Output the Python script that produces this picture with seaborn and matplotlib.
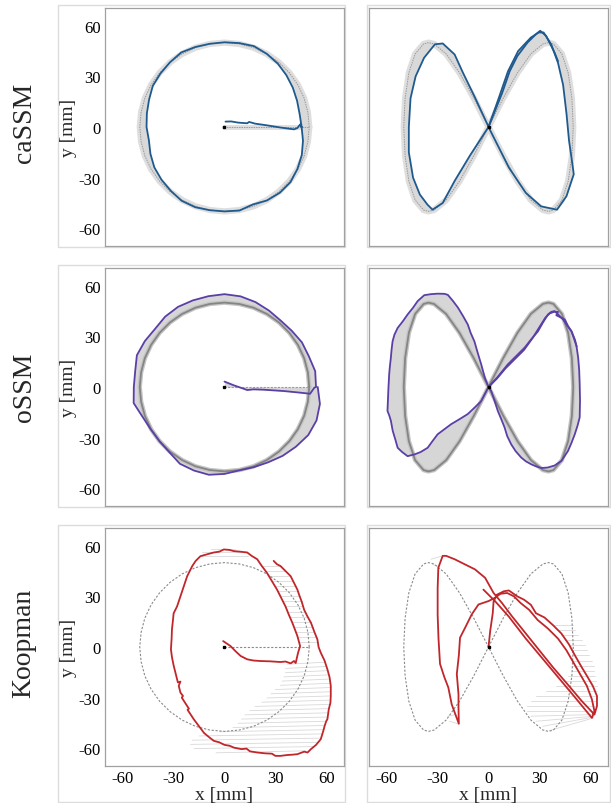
import numpy as np
import matplotlib
matplotlib.use('Agg')
import matplotlib.pyplot as plt
from matplotlib.path import Path
from matplotlib.patches import PathPatch, Rectangle
import seaborn as sns

# ---------------------------------------------------------------
# reference paths (mm)
circ_ref_x = [50, 49.2, 47.0, 43.3, 38.3, 32.1, 25.0, 17.1, 8.7, 0, -8.7, -17.1, -25.0, -32.1, -38.3,
              -43.3, -47.0, -49.2, -50, -49.2, -47.0, -43.3, -38.3, -32.1, -25.0, -17.1, -8.7, 0,
              8.7, 17.1, 25.0, 32.1, 38.3, 43.3, 47.0, 49.2, 50]
circ_ref_y = [0, 8.7, 17.1, 25.0, 32.1, 38.3, 43.3, 47.0, 49.2, 50, 49.2, 47.0, 43.3, 38.3, 32.1,
              25.0, 17.1, 8.7, 0, -8.7, -17.1, -25.0, -32.1, -38.3, -43.3, -47.0, -49.2, -50,
              -49.2, -47.0, -43.3, -38.3, -32.1, -25.0, -17.1, -8.7, 0]

eight_ref_x = [0, 8.7, 17.1, 25.0, 32.1, 35.4, 38.3, 43.3, 47.0, 49.2, 50, 49.2, 47.0, 43.3, 38.3, 35.4,
               32.1, 25.0, 17.1, 8.7, 0, -8.7, -17.1, -25.0, -32.1, -35.4, -38.3, -43.3, -47.0, -49.2,
               -50, -49.2, -47.0, -43.3, -38.3, -35.4, -32.1, -25.0, -17.1, -8.7, 0]
eight_ref_y = [0, 17.1, 32.1, 43.3, 49.2, 50, 49.2, 43.3, 32.1, 17.1, 0, -17.1, -32.1, -43.3, -49.2, -50,
               -49.2, -43.3, -32.1, -17.1, 0, 17.1, 32.1, 43.3, 49.2, 50, 49.2, 43.3, 32.1, 17.1,
               0, -17.1, -32.1, -43.3, -49.2, -50, -49.2, -43.3, -32.1, -17.1, 0]

start_ref_x = [0, 50]
start_ref_y = [0, 0]

# ---------------------------------------------------------------
# caSSM
cassm_circ_start_x = [0.6, 4, 8, 13.4, 14.5, 18, 25, 33, 41, 43, 44.6]
cassm_circ_start_y = [3.2, 3.3, 2.6, 2.2, 3.0, 2.0, 1.0, -0.3, -1.4, -0.6, 1.5]
cassm_circ_x = [45.5, 44.3, 42.8, 40.3, 36.5, 31.5, 25.0, 17.4, 8.8, 0, -8.7, -17.2, -25.5, -32.2, -37.8,
                -42.3, -44.5, -45.8, -46.0, -44.6, -43.7, -41.4, -37.2, -31.7, -25.3, -17.3, -8.7, 0,
                8.8, 16.7, 25.1, 32.7, 38.9, 43.0, 45.6, 46.3, 45.5]
cassm_circ_y = [0, 7.8, 15.6, 23.3, 30.7, 37.5, 43.3, 47.9, 49.7, 50.2, 49.3, 47.4, 44.2, 38.3, 31.7,
                24.4, 16.2, 8.1, 0, -7.9, -15.9, -23.9, -31.2, -37.8, -43.7, -47.5, -49.3, -50.0,
                -49.5, -45.9, -43.5, -38.9, -32.7, -24.9, -16.6, -8.2, 0]

cassm_eight_x = [0, 6, 11.5, 17.5, 25, 29.6, 32.5, 37, 41, 44, 46, 47.5, 49.5, 50.3, 46, 40.4, 31, 22,
                 12, 1, -8, -15, -20, -27, -31.6, -38, -43, -46, -47, -47, -44.5, -40.5, -36, -33,
                 -27, -20, -11, 0]
cassm_eight_y = [0, 17, 33, 45, 53, 56, 56, 49, 38, 25, 8, -8, -22, -28, -41, -49, -47, -39,
                 -24, -2, 17.5, 32, 43, 49.5, 49, 41, 30, 17, 0, -15, -30, -40, -46, -49,
                 -45, -32, -17, 0]
cassm_eight2_x = [0, 4, 8, 12.5, 17, 23, 28, 30.5, 34, 36, 39, 41]
cassm_eight2_y = [0, 10, 20, 33, 42, 50, 55, 57, 54, 50, 44, 39]

# ---------------------------------------------------------------
# oSSM
ossm_circ_start_x = [0, 5.5, 9.5, 13.4, 17, 23, 29, 35, 41, 46, 50.5, 53]
ossm_circ_start_y = [3.2, 1.0, -0.4, -1.8, -1.4, -1.6, -2.0, -2.4, -3.0, -3.5, -4.0, -0.4]
ossm_circ_x = [54.0, 53.5, 49.8, 45.7, 39.7, 33.1, 26.2, 18.3, 9.5, 0, -9.5, -18.7, -27.4, -35.0, -41.0,
               -47.0, -51.7, -52.7, -53.5, -53.6, -48.4, -43.5, -38.3, -32.5, -26.3, -18.0, -9.2, 0,
               8.7, 17.3, 25.8, 34.3, 42.1, 49.4, 54.3, 56.3, 55.0]
ossm_circ_y = [0, 9.4, 18.1, 26.4, 33.3, 39.4, 45.3, 50.3, 53.7, 55.0, 53.8, 51.3, 47.5, 41.7, 34.4,
               27.2, 18.8, 9.3, 0, -9.5, -17.6, -25.1, -32.2, -38.7, -45.5, -49.5, -52.0, -51.5,
               -49.4, -47.5, -44.6, -40.8, -35.4, -28.5, -19.8, -10.0, 0]

ossm_eight_x = [0, 5, 11.4, 16, 21.3, 25, 29.2, 32, 35.1, 37, 39, 41, 44, 46, 48.9, 50.5, 51.9, 52.9,
                53.5, 53.8, 54, 53.8, 52.5, 50.9, 49, 46.9, 43, 39, 35, 31.2, 28, 25.2, 22, 19.3,
                16, 13.4, 11, 9.5, 7.5, 5.5, 3.5, 1.6, 0,
                -2, -4.3, -6.3, -8.3, -10.5, -12.2, -15, -18, -21, -24, -26, -30, -34, -37.9, -41.8,
                -44.5, -47.7, -50.5, -53.6, -55.5, -56.6, -57.2, -57.6, -58.2, -58.6, -59, -59.3,
                -59.6, -58.5, -57.6, -56.5, -55, -53.6, -51, -47.7, -46, -43.8, -40, -35.9, -33,
                -30, -26, -22, -17, -12.2, -8, -4.3, 0]
ossm_eight_y = [0, 5.5, 13.4, 18, 23.3, 28, 33, 38, 43, 44.5, 45, 43, 40, 37, 33, 28.5, 24.3, 17.4,
                10, 1.6, -8, -18, -23, -28, -33, -37.9, -43.8, -46.5, -47.7, -48, -47, -45.8, -44,
                -41.8, -38, -34, -29, -24, -19, -14.2, -8, -2.4, 0,
                5, 13.4, 20, 27, 32, 37, 42, 47, 51, 54.6, 55.2, 55.3, 55, 54.4, 50.9,
                47, 43, 39, 35, 31, 27, 22, 17.4, 12, 7.5, 0, -7,
                -14.2, -17, -20, -26, -31, -36, -38.5, -41, -40.5, -40, -38.5, -36, -32,
                -28, -25, -22, -19, -16, -12, -8.3, 0]
ossm_eight2_x = [0, 5, 10, 15, 21, 26, 31, 33.5, 36, 38.5, 41, 40, 43, 45, 47, 49, 51, 52]
ossm_eight2_y = [0, 5, 11, 16, 22, 29, 37, 41, 43.5, 44.5, 44.5, 42.5, 41, 40, 36, 33, 28, 24]

# ---------------------------------------------------------------
# Koopman
koop_circ_x = [-0.8, 3.5, 6.5, 9.5, 13.4, 17, 21, 27, 33, 36, 39, 41, 42, 43.4, 44.6, 43, 41.5, 40, 38,
               36, 33.5, 31, 28, 25, 22, 19.3, 16, 13.4, 9, 5.5, 3, -0.4, -3, -6.3, -10, -14.2, -17,
               -19, -20.5, -22, -24, -26, -27, -28, -30, -30.5, -31, -31.2, -31.6, -31, -30, -29,
               -28, -27.5, -26, -27, -26, -24.5, -25.2, -22, -21, -21.8, -18, -15, -12, -9, -6.3,
               -3, 0, 3, 5.5, 10, 13, 15, 19.3, 24, 28, 30, 33, 37, 40, 43, 47, 49, 51, 54, 56.8,
               58.5, 59, 60, 60.7, 61.5, 62.5, 62.7, 62.7, 62, 60.7, 59, 56.8, 55.5, 54.8, 53, 51,
               49, 47, 45.5, 44, 43, 41, 39, 36, 33, 31, 29]
koop_circ_y = [3.5, 0.6, -2.5, -5.3, -7.3, -8, -8.3, -8.5, -8.9, -8.6, -9.7, -8.3, -9.5, -3.4, 0.6, 6.5,
               10.5, 14.4, 19, 24, 29, 34, 39, 44, 48, 52, 54, 56, 56.5, 56.8, 57.5, 57.8, 56.5, 56,
               55, 53.8, 51, 48, 45, 42, 36, 30, 27, 24, 20, 15, 10.5, 5, -1.4, -6, -11, -15, -19,
               -21, -20.5, -23, -27, -29, -30, -35, -36.5, -37.2, -43, -47, -51, -53.5, -55.6,
               -56.5, -58, -58.5, -59.6, -60.5, -60.2, -61.8, -62.5, -63, -63.2, -64.5, -64.5, -64,
               -63.8, -63.5, -62, -62.5, -60.5, -58, -54.6, -49, -47, -44, -42.8, -37, -33, -29,
               -23, -18, -13.2, -8, -3.4, 0, 4.5, 9, 14.4, 18, 22, 27, 31, 34, 38, 42, 45, 48, 49, 51]

# light gray error lines (reference -> actual), Koopman circle
kc_err_x0 = [37, 36, 36, 35, 34, 33, 30, 27.5, 25, 22, 18, 15, 12, 10, 8, 5, -3, -15, -19, -20, -18, -5,
             22, 24.5, 26.5, 28, 29.5, 31.5, 33, 34.5, 36, 37.3, 38.5, 40, 41, 42.3, 43.3, 44,
             -8, -13, -15]
kc_err_x1 = [59.5, 60.3, 61, 61.8, 62.3, 62.7, 62.7, 62.7, 62.7, 62.5, 62.3, 61.6, 61.2, 60.5, 60, 59,
             58.5, 57.5, 56.8, 55, 52, 48,
             33, 36, 39, 40.5, 42, 43.3, 44.3, 45.5, 46.5, 47.5, 49, 50.8, 52, 53, 54.3, 55,
             6, 10, 14]
kc_err_y0 = [-10.2, -12.7, -15.2, -17.7, -20.2, -22.7, -25.2, -27.7, -30.2, -32.7, -35.2, -37.7, -40.2,
             -42.7, -45.2, -47.7, -50.2, -52.7, -55.2, -57.7, -60.2, -62.7,
             48, 45, 42, 39, 36, 33, 30, 27, 24, 21, 18, 15, 12, 9, 6, 3,
             58, 56, 54]
kc_err_y1 = [-9, -11.5, -14, -16.5, -19, -21.5, -24, -26.5, -29, -31.5, -34, -36.5, -39, -41.5, -44,
             -46.5, -49, -51.5, -54, -56.5, -59, -61.5,
             48, 45, 42, 39, 36, 33, 30, 27, 24, 21, 18, 15, 12, 9, 6, 3,
             58, 56, 54]

koop_eight_x = [0, 1, 2.5, 3, 5, 9, 12, 17, 21, 25, 28, 33, 38, 43, 47.5, 51, 55, 58, 61.5, 64, 64,
                62.5,
                55, 47, 38, 30, 22, 14, 8, 3, -2, -8, -13.8, -20, -25, -27,
                -29.6, -30, -30, -29.5, -28.6, -26, -23.7, -21.7, -19.5, -17.5,
                -17.7, -17.7, -18.7, -17.5, -16.8, -13.8, -9.9, -5.9, 0, 3.9, 7,
                11, 15, 19, 24, 29, 35, 41, 46, 50, 54, 58, 61, 62.5, 61,
                52, 42, 32, 22, 12, 4, -3]
koop_eight_y = [0, 9.5, 20, 27, 31, 33, 33.5, 30, 28, 25, 20, 17.5, 13, 8, 1.5, -5, -12, -17, -23, -29,
                -35, -40,
                -32, -22.5, -12, -2, 8, 18, 26, 32, 41, 46, 48.9, 52, 54, 54,
                47, 35, 19, 5, -10, -18, -24, -34, -40, -45.5,
                -36, -28, -16, -5, 5.5, 11.4, 19.3, 25.2, 27.2, 29.2, 31.5,
                32, 30, 26, 22, 16, 11, 5, -2, -9, -16, -23, -31, -38, -42,
                -31, -19, -7, 5, 18, 27, 34]

ke_err_x0 = [38, 41, 43, 45, 47.5, 49, 50, 50, 49.5, 49, 47, 44, 40, 34, 28, 25, 23, 23,
             25, 28, 32, 36, -34, -33, -23, -24]
ke_err_x1 = [50, 51, 53, 55, 57, 58, 59.5, 61, 62, 62.5, 63, 63.5, 64, 64, 64, 63.5, 63, 62.5,
             62.5, 62, 62, 62, -27, -29.5, -18, -19.5]
ke_err_y0 = [13, 10, 7, 4, 1, -2, -5, -8, -11, -14, -17, -20, -23, -26, -29, -32, -35, -38,
             -41, -44, -47, -49.5, 52, 49, -44, -41]
ke_err_y1 = [13, 10, 7, 4, 1, -2, -5, -8, -11, -14, -17, -20, -23, -26, -29, -32, -35, -38,
             -40, -41, -41.5, -42, 54, 47.5, -45.5, -40]

ticks = [-60, -30, 0, 30, 60]
row_names = ['caSSM', 'oSSM', 'Koopman']

# ---------------------------------------------------------------
sns.set_style('white')
plt.rcParams['font.family'] = ['Liberation Serif', 'DejaVu Serif']
plt.rcParams['axes.unicode_minus'] = False

W, H = 611, 804
fig = plt.figure(figsize=(W / 100, H / 100), dpi=100)

col_left = [105, 369]
row_top = [9, 269, 529]
ax_w, ax_h = 239, 238

blue = '#1f5a8e'
purple = '#5b3fa6'
red = '#c1262a'


def xor_fill(ax, x1, y1, x2, y2, color):
    a = np.column_stack([x1, y1])
    b = np.column_stack([x2, y2])[::-1]
    verts = np.vstack([a, a[:1], b, b[:1]])
    codes = ([Path.MOVETO] + [Path.LINETO] * (len(a) - 1) + [Path.CLOSEPOLY]
             + [Path.MOVETO] + [Path.LINETO] * (len(b) - 1) + [Path.CLOSEPOLY])
    ax.add_patch(PathPatch(Path(verts, codes), fc=color, ec='none', zorder=1))


def traj(ax, xs, ys, color):
    sns.lineplot(x=xs, y=ys, sort=False, estimator=None, color=color,
                 linewidth=1.3, ax=ax, zorder=3)


def err_lines(ax, x0, y0, x1, y1):
    for a, b, c, d in zip(x0, y0, x1, y1):
        ax.plot([a, c], [b, d], color='#d9d9d9', lw=0.6, zorder=1)


axes = {}
for r in range(3):
    for c in range(2):
        l, t = col_left[c], row_top[r]
        ax = fig.add_axes([l / W, 1 - (t + ax_h) / H, ax_w / W, ax_h / H])
        axes[(r, c)] = ax
        # light frame around each panel
        x0 = 58 if c == 0 else 367
        x1 = 345 if c == 0 else 610
        y0 = t - 3
        y1 = t + ax_h + 1 if r < 2 else H - 1
        fig.add_artist(Rectangle((x0 / W, 1 - y1 / H), (x1 - x0) / W, (y1 - y0) / H,
                                 transform=fig.transFigure, fill=False,
                                 ec='#dcdcdc', lw=1.0, zorder=0))

# --- caSSM
ax = axes[(0, 0)]
ax.plot(circ_ref_x, circ_ref_y, color='#dedede', lw=4.5, zorder=1, solid_capstyle='round')
ax.plot(start_ref_x, start_ref_y, color='#dedede', lw=3.5, zorder=1)
xor_fill(ax, cassm_circ_x, cassm_circ_y, circ_ref_x, circ_ref_y, '#d9d9d9')
ax.plot(circ_ref_x, circ_ref_y, color='#999999', lw=0.7, ls=(0, (1.5, 1)), zorder=2)
ax.plot(start_ref_x, start_ref_y, color='#999999', lw=0.7, ls=(0, (1.5, 1)), zorder=2)
traj(ax, cassm_circ_start_x + cassm_circ_x, cassm_circ_start_y + cassm_circ_y, blue)

ax = axes[(0, 1)]
ax.plot(eight_ref_x, eight_ref_y, color='#dedede', lw=4.5, zorder=1, solid_capstyle='round')
xor_fill(ax, cassm_eight_x, cassm_eight_y, eight_ref_x, eight_ref_y, '#d9d9d9')
ax.plot(eight_ref_x, eight_ref_y, color='#999999', lw=0.7, ls=(0, (1.5, 1)), zorder=2)
traj(ax, cassm_eight_x, cassm_eight_y, blue)
traj(ax, cassm_eight2_x, cassm_eight2_y, blue)

# --- oSSM
ax = axes[(1, 0)]
ax.fill_between(ossm_circ_start_x, ossm_circ_start_y, 0, color='#d6d6d6', lw=0, zorder=1)
xor_fill(ax, ossm_circ_x, ossm_circ_y, circ_ref_x, circ_ref_y, '#d6d6d6')
ax.plot(circ_ref_x, circ_ref_y, color='#c4c4c4', lw=3.2, zorder=1.5)
ax.plot(circ_ref_x, circ_ref_y, color='#858585', lw=1.3, zorder=2)
ax.plot(start_ref_x, start_ref_y, color='#9a9a9a', lw=0.8, ls=(0, (2, 1.2)), zorder=2)
traj(ax, ossm_circ_start_x + ossm_circ_x, ossm_circ_start_y + ossm_circ_y, purple)

ax = axes[(1, 1)]
xor_fill(ax, ossm_eight_x, ossm_eight_y, eight_ref_x, eight_ref_y, '#d6d6d6')
ax.plot(eight_ref_x, eight_ref_y, color='#c4c4c4', lw=3.2, zorder=1.5)
ax.plot(eight_ref_x, eight_ref_y, color='#858585', lw=1.3, zorder=2)
traj(ax, ossm_eight_x, ossm_eight_y, purple)
traj(ax, ossm_eight2_x, ossm_eight2_y, purple)

# --- Koopman
ax = axes[(2, 0)]
err_lines(ax, kc_err_x0, kc_err_y0, kc_err_x1, kc_err_y1)
ax.plot(circ_ref_x, circ_ref_y, color='#8a8a8a', lw=0.8, ls=(0, (2, 1.5)), zorder=2)
ax.plot(start_ref_x, start_ref_y, color='#8a8a8a', lw=0.8, ls=(0, (2, 1.5)), zorder=2)
traj(ax, koop_circ_x, koop_circ_y, red)

ax = axes[(2, 1)]
err_lines(ax, ke_err_x0, ke_err_y0, ke_err_x1, ke_err_y1)
ax.plot(eight_ref_x, eight_ref_y, color='#8a8a8a', lw=0.8, ls=(0, (2, 1.5)), zorder=2)
traj(ax, koop_eight_x, koop_eight_y, red)

# --- common axis styling
for (r, c), ax in axes.items():
    ax.plot([0], [0], marker='s', ms=2, color='k', zorder=5)
    ax.set_xlim(-70.5, 70.5)
    ax.set_ylim(-70.5, 70.5)
    ax.set_xticks(ticks)
    ax.set_yticks(ticks)
    ax.tick_params(direction='out', length=2, width=0.6, color='#999999',
                   labelsize=12, pad=1, colors='#999999', labelcolor='black')
    for s in ax.spines.values():
        s.set_color('#a0a0a0')
        s.set_linewidth(0.9)
    ax.set_xlabel('')
    ax.set_ylabel('')
    if c == 0:
        ax.set_ylabel('y [mm]', fontsize=14, labelpad=1)
    else:
        ax.set_yticklabels([])
    if r == 2:
        ax.set_xlabel('x [mm]', fontsize=14, labelpad=0)
    else:
        ax.set_xticklabels([])

label_y = [123, 387, 643]
for name, yy in zip(row_names, label_y):
    fig.text(24 / W, 1 - yy / H, name, rotation=90, fontsize=20,
             ha='center', va='center')

fig.savefig('out.png', dpi=100)
